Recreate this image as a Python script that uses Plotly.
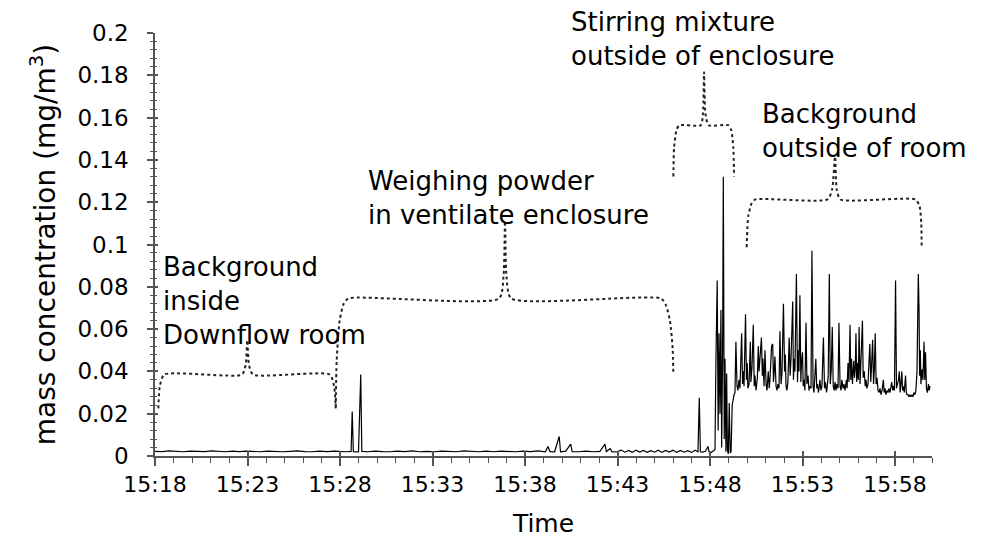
import plotly.graph_objects as go
import pandas as pd

DAY = "2020-01-01"

# ---------------- data (time in minutes after 15:00, concentration in mg/m3) -------------
t_background_room = [18.00, 18.40, 18.75, 19.10, 19.50, 19.90, 20.30, 20.70, 21.05, 21.40,
                     21.80, 22.20, 22.55, 22.95, 23.30, 23.70, 24.10, 24.50, 24.90, 25.30,
                     25.70, 26.10, 26.50, 26.90, 27.30, 27.70, 28.00, 28.30, 28.60, 28.66,
                     28.72, 29.00, 29.12, 29.18]
c_background_room = [0.0022, 0.0021, 0.0024, 0.0021, 0.0020, 0.0023, 0.0022, 0.0021, 0.0024, 0.0021,
                     0.0020, 0.0023, 0.0021, 0.0023, 0.0021, 0.0020, 0.0023, 0.0021, 0.0020, 0.0022,
                     0.0024, 0.0021, 0.0020, 0.0023, 0.0021, 0.0023, 0.0021, 0.0020, 0.0022, 0.0210,
                     0.0021, 0.0020, 0.0385, 0.0022]

t_weighing = [29.50, 29.90, 30.30, 30.70, 31.10, 31.50, 31.90, 32.30, 32.70, 33.10,
              33.50, 33.90, 34.30, 34.70, 35.10, 35.50, 35.90, 36.30, 36.70, 37.10,
              37.50, 37.90, 38.30, 38.70, 39.10, 39.24, 39.35, 39.60, 39.85, 39.92,
              40.20, 40.47, 40.55, 40.90, 41.30, 41.70, 42.05, 42.32, 42.40, 42.60,
              42.70, 43.00, 43.20, 43.40, 43.60, 43.80, 44.00, 44.20, 44.40, 44.60,
              44.80, 45.00, 45.20, 45.40, 45.60, 45.80, 46.00, 46.20, 46.40, 46.60,
              46.80, 47.00, 47.20, 47.35, 47.42, 47.48, 47.60, 47.75, 47.89, 47.95,
              48.05]
c_weighing = [0.0020, 0.0023, 0.0021, 0.0020, 0.0023, 0.0021, 0.0024, 0.0020, 0.0022, 0.0020,
              0.0023, 0.0021, 0.0020, 0.0024, 0.0021, 0.0020, 0.0023, 0.0020, 0.0023, 0.0021,
              0.0020, 0.0023, 0.0021, 0.0024, 0.0020, 0.0045, 0.0021, 0.0020, 0.0092, 0.0020,
              0.0023, 0.0056, 0.0021, 0.0020, 0.0023, 0.0020, 0.0022, 0.0056, 0.0021, 0.0035,
              0.0020, 0.0021, 0.0028, 0.0018, 0.0026, 0.0017, 0.0027, 0.0019, 0.0026, 0.0017,
              0.0025, 0.0018, 0.0027, 0.0017, 0.0026, 0.0019, 0.0027, 0.0017, 0.0026, 0.0018,
              0.0025, 0.0017, 0.0027, 0.0020, 0.0275, 0.0020, 0.0018, 0.0022, 0.0045, 0.0019,
              0.0015]

t_stirring = [48.11, 48.19, 48.27, 48.32, 48.39, 48.44, 48.49, 48.54, 48.59, 48.63,
              48.68, 48.72, 48.77, 48.81, 48.86, 48.90, 48.94, 48.99, 49.04, 49.09,
              49.14, 49.20, 49.25, 49.30]
c_stirring = [0.0020, 0.0025, 0.0030, 0.045, 0.083, 0.012, 0.058, 0.020, 0.069, 0.004,
              0.048, 0.132, 0.008, 0.046, 0.002, 0.039, 0.003, 0.001, 0.025, 0.0015,
              0.002, 0.024, 0.027, 0.029]

t_outside = [49.35, 49.40, 49.46, 49.51, 49.57, 49.62, 49.71, 49.76, 49.80, 49.84,
             49.92, 49.97, 50.01, 50.05, 50.11, 50.18, 50.21, 50.27, 50.34, 50.39,
             50.43, 50.49, 50.56, 50.61, 50.65, 50.70, 50.78, 50.83, 50.86, 50.92,
             50.97, 51.03, 51.08, 51.15, 51.20, 51.24, 51.33, 51.39, 51.43, 51.47,
             51.51, 51.57, 51.62, 51.67, 51.73, 51.78, 51.84, 51.89, 51.97, 52.03,
             52.07, 52.11, 52.16, 52.21, 52.28, 52.33, 52.38, 52.47, 52.51, 52.56,
             52.59, 52.67, 52.73, 52.77, 52.81, 52.86, 52.91, 52.95, 53.00, 53.04,
             53.09, 53.13, 53.19, 53.24, 53.30, 53.35, 53.40, 53.46, 53.51, 53.57,
             53.62, 53.72, 53.77, 53.81, 53.86, 53.91, 53.94, 54.00, 54.05, 54.13,
             54.19, 54.24, 54.30, 54.35, 54.39, 54.45, 54.50, 54.55, 54.61, 54.66,
             54.71, 54.76, 54.81, 54.86, 54.92, 54.97, 55.03, 55.08, 55.13, 55.19,
             55.24, 55.30, 55.37, 55.41, 55.46, 55.51, 55.57, 55.61, 55.65, 55.70,
             55.77, 55.81, 55.85, 55.89, 55.93, 55.98, 56.02, 56.06, 56.11, 56.16,
             56.24, 56.28, 56.34, 56.39, 56.43, 56.48, 56.54, 56.64, 56.69, 56.73,
             56.79, 56.84, 56.88, 56.93, 56.98, 57.03, 57.08, 57.13, 57.19, 57.24,
             57.30, 57.37, 57.41, 57.46, 57.51, 57.57, 57.62, 57.67, 57.73, 57.82,
             57.88, 57.92, 57.97, 58.03, 58.08, 58.13, 58.19, 58.23, 58.28, 58.32,
             58.37, 58.41, 58.46, 58.50, 58.57, 58.61, 58.65, 58.70, 58.75, 58.81,
             58.86, 58.92, 58.97, 59.02, 59.08, 59.13, 59.19, 59.26, 59.30, 59.33,
             59.37, 59.40, 59.46, 59.51, 59.57, 59.61, 59.65, 59.70, 59.75, 59.81,
             59.85, 59.89]
c_outside = [0.030, 0.054, 0.033, 0.031, 0.036, 0.032, 0.058, 0.034, 0.040, 0.033,
             0.067, 0.036, 0.044, 0.032, 0.034, 0.054, 0.035, 0.042, 0.062, 0.033,
             0.038, 0.031, 0.037, 0.052, 0.040, 0.047, 0.056, 0.038, 0.046, 0.033,
             0.050, 0.034, 0.031, 0.040, 0.032, 0.036, 0.052, 0.053, 0.035, 0.040,
             0.047, 0.033, 0.031, 0.034, 0.032, 0.059, 0.034, 0.039, 0.072, 0.040,
             0.048, 0.033, 0.031, 0.035, 0.056, 0.038, 0.046, 0.073, 0.036, 0.046,
             0.040, 0.086, 0.035, 0.050, 0.040, 0.076, 0.035, 0.045, 0.049, 0.033,
             0.036, 0.031, 0.063, 0.034, 0.038, 0.031, 0.033, 0.032, 0.097, 0.033,
             0.030, 0.046, 0.032, 0.034, 0.030, 0.033, 0.036, 0.031, 0.033, 0.056,
             0.032, 0.035, 0.030, 0.034, 0.038, 0.086, 0.034, 0.040, 0.061, 0.033,
             0.031, 0.035, 0.031, 0.034, 0.032, 0.063, 0.033, 0.031, 0.036, 0.032,
             0.034, 0.031, 0.036, 0.032, 0.044, 0.035, 0.062, 0.036, 0.046, 0.034,
             0.045, 0.037, 0.041, 0.058, 0.035, 0.044, 0.036, 0.061, 0.034, 0.045,
             0.064, 0.037, 0.040, 0.033, 0.036, 0.032, 0.034, 0.053, 0.035, 0.042,
             0.055, 0.034, 0.040, 0.058, 0.034, 0.037, 0.031, 0.030, 0.032, 0.029,
             0.031, 0.036, 0.030, 0.032, 0.029, 0.031, 0.030, 0.032, 0.030, 0.035,
             0.031, 0.033, 0.031, 0.083, 0.032, 0.034, 0.036, 0.040, 0.030, 0.034,
             0.040, 0.031, 0.033, 0.030, 0.038, 0.030, 0.029, 0.029, 0.028, 0.029,
             0.028, 0.029, 0.028, 0.030, 0.029, 0.031, 0.040, 0.086, 0.069, 0.038,
             0.050, 0.034, 0.041, 0.036, 0.054, 0.036, 0.049, 0.032, 0.030, 0.034,
             0.031, 0.033]

# axis ticks
x_tick_labels = ["15:18", "15:23", "15:28", "15:33", "15:38", "15:43", "15:48", "15:53", "15:58"]
y_tick_values = [0, 0.02, 0.04, 0.06, 0.08, 0.1, 0.12, 0.14, 0.16, 0.18, 0.2]
y_tick_labels = ["0", "0.02", "0.04", "0.06", "0.08", "0.1", "0.12", "0.14", "0.16", "0.18", "0.2"]

# period labels and their braces (time in minutes after 15:00, value in mg/m3)
period_labels = ["Background<br>inside<br>Downflow room",
                 "Weighing powder<br>in ventilate enclosure",
                 "Stirring mixture<br>outside of enclosure",
                 "Background<br>outside of room"]
label_t = [18.35, 29.38, 40.40, 50.68]
label_c = [0.0735, 0.1222, 0.1970, 0.1536]

brace_t = [
    [18.18, 18.26, 18.50, 22.70, 22.90, 22.99, 23.08, 23.30, 27.45, 27.68, 27.77],
    [27.77, 27.82, 27.98, 28.20, 28.45, 36.60, 36.84, 36.92, 37.00, 37.25, 45.35, 45.62, 45.84, 45.98, 46.02],
    [46.02, 46.06, 46.20, 46.35, 47.50, 47.62, 47.68, 47.75, 47.92, 48.98, 49.15, 49.26, 49.30],
    [49.98, 50.07, 50.25, 50.45, 54.35, 54.60, 54.76, 54.85, 55.05, 59.10, 59.33, 59.42, 59.44],
]
brace_c = [
    [0.0225, 0.0330, 0.0385, 0.0385, 0.0430, 0.0548, 0.0430, 0.0385, 0.0385, 0.0330, 0.0225],
    [0.0230, 0.0450, 0.0640, 0.0720, 0.0745, 0.0745, 0.0850, 0.1110, 0.0850, 0.0745, 0.0745, 0.0713, 0.0637, 0.0510, 0.0385],
    [0.1322, 0.1460, 0.1545, 0.1564, 0.1564, 0.1620, 0.1814, 0.1620, 0.1564, 0.1564, 0.1540, 0.1460, 0.1322],
    [0.0987, 0.1135, 0.1195, 0.1213, 0.1213, 0.1260, 0.1416, 0.1260, 0.1213, 0.1213, 0.1180, 0.1100, 0.0987],
]

# ---------------- build ----------------
base = pd.Timestamp(f"{DAY} 15:00:00")


def to_time(mins):
    return [base + pd.Timedelta(minutes=m) for m in mins]


t_all = t_background_room + t_weighing + t_stirring + t_outside
c_all = c_background_room + c_weighing + c_stirring + c_outside

AX = "#555555"
FONT = "DejaVu Sans"

fig = go.Figure()
fig.add_trace(go.Scatter(x=to_time(t_all), y=c_all, mode="lines",
                         line=dict(color="black", width=1.2), hoverinfo="skip"))

for bt, bc in zip(brace_t, brace_c):
    fig.add_trace(go.Scatter(x=to_time(bt), y=bc, mode="lines",
                             line=dict(color="#222222", width=2, dash="dot", shape="spline", smoothing=0.6),
                             hoverinfo="skip"))

for txt, lt, lc in zip(period_labels, label_t, label_c):
    fig.add_annotation(x=to_time([lt])[0], y=lc, text=txt, showarrow=False,
                       xanchor="left", yanchor="middle", align="left",
                       font=dict(family=FONT, size=26, color="black"))

# overlay axes (no data) draw the inner part of the crossing ticks
x_range = [f"{DAY} 15:18:00", f"{DAY} 16:00:00"]
x_tickvals = [f"{DAY} {lab}:00" for lab in x_tick_labels]
fig.add_trace(go.Scatter(x=[x_range[0]], y=[None], xaxis="x2", yaxis="y2",
                         mode="lines", hoverinfo="skip"))

fig.update_layout(
    width=982, height=545,
    margin=dict(l=155, r=50, t=33, b=86),
    plot_bgcolor="white", paper_bgcolor="white",
    showlegend=False,
    font=dict(family=FONT, color="black"),
    xaxis=dict(type="date", range=x_range, tickmode="array", tickvals=x_tickvals, ticktext=x_tick_labels,
               ticks="outside", ticklen=8, tickwidth=1.5, tickcolor=AX,
               showline=True, linecolor=AX, linewidth=1.5, showgrid=False, zeroline=False,
               tickfont=dict(size=22, color="black"),
               minor=dict(ticks="outside", ticklen=5, tickwidth=1.2, tickcolor=AX,
                          tickmode="linear", tick0=f"{DAY} 15:18:00", dtick=60000, showgrid=False),
               title=dict(text="Time", font=dict(size=25, color="black"), standoff=18)),
    yaxis=dict(range=[0, 0.2], tickmode="array", tickvals=y_tick_values, ticktext=y_tick_labels,
               ticks="outside", ticklen=6, tickwidth=1.5, tickcolor=AX,
               showline=True, linecolor=AX, linewidth=1.5, showgrid=False, zeroline=False,
               tickfont=dict(size=23, color="black"), ticklabelstandoff=14,
               minor=dict(ticks="outside", ticklen=3, tickwidth=1.2, tickcolor=AX,
                          tickmode="linear", tick0=0, dtick=0.004, showgrid=False),
               title=dict(text="mass concentration (mg/m<sup>3</sup>)", font=dict(size=28, color="black"),
                          standoff=14)),
    xaxis2=dict(type="date", range=x_range, overlaying="x", anchor="y", tickmode="array",
                tickvals=x_tickvals, ticks="inside", ticklen=5, tickwidth=1.5, tickcolor=AX,
                showticklabels=False, showline=False, showgrid=False, zeroline=False),
    yaxis2=dict(range=[0, 0.2], overlaying="y", anchor="x", tickmode="array", tickvals=y_tick_values,
                ticks="inside", ticklen=3, tickwidth=1.5, tickcolor=AX,
                showticklabels=False, showline=False, showgrid=False, zeroline=False,
                minor=dict(ticks="inside", ticklen=2, tickwidth=1.2, tickcolor=AX,
                           tickmode="linear", tick0=0, dtick=0.004, showgrid=False)),
)

fig.write_html("out.html")
